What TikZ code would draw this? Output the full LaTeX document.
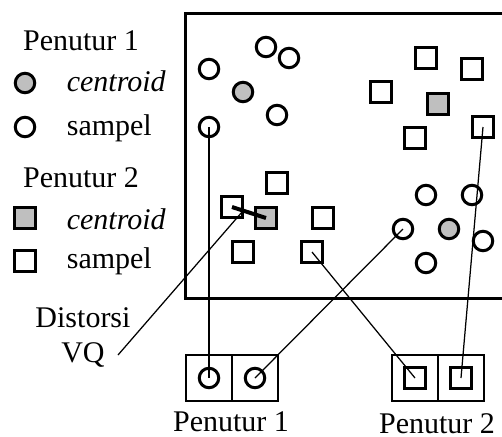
\documentclass[tikz,border=0pt]{standalone}
\usepackage{fontspec}
\setmainfont{Liberation Serif}
\begin{document}
\begin{tikzpicture}[x=0.4pt, y=-0.4pt, % 1 unit = 1 px of the sketch
  font=\fontsize{12}{14}\selectfont,
  bulat/.style={circle, draw, line width=1.2pt, fill=white, minimum size=7.8pt, inner sep=0pt},
  kotak/.style={rectangle, draw, line width=1.2pt, fill=white, minimum size=8.2pt, inner sep=0pt},
  pusat/.style={fill=black!25},
  sel/.style={rectangle, draw, line width=0.5pt, minimum size=18.4pt, inner sep=0pt},
  garis/.style={line width=0.5pt}]
  \useasboundingbox (0,0) rectangle (502,436);

  % Legend
  \node[anchor=base] (leg1) at (81,50) {Penutur 1};
  \node[bulat, pusat] (lc1) at (25,83) {};
  \node[anchor=base west] (lt1) at (58,91) {\textit{centroid}};
  \node[bulat] (ls1) at (25,127) {};
  \node[anchor=base west] (lt2) at (58,135) {sampel};
  \node[anchor=base] (leg2) at (81,187) {Penutur 2};
  \node[kotak, pusat] (lc2) at (25,218) {};
  \node[anchor=base west] (lt3) at (58,229) {\textit{centroid}};
  \node[kotak] (ls2) at (25,261) {};
  \node[anchor=base west] (lt4) at (58,268) {sampel};

  % Feature space (open on the right)
  \draw[line width=1.2pt] (530,13) -- (186,13) -- (186,298) -- (530,298);

  % Penutur 1 clusters (circles)
  \foreach \n/\x/\y in {sa1/209/69, sa2/266/47, sa3/289/58, sa4/277/115, sa5/209/127,
                        sb1/426/195, sb2/472/195, sb3/403/229, sb4/483/241, sb5/426/263}
    \node[bulat] (\n) at (\x,\y) {};
  \node[bulat, pusat] (ca) at (243,92) {};
  \node[bulat, pusat] (cb) at (449,229) {};

  % Penutur 2 clusters (squares)
  \foreach \n/\x/\y in {kc1/426/58, kc2/472/69, kc3/381/92, kc4/415/138, kc5/483/127,
                        kd1/232/207, kd2/277/183, kd3/323/218, kd4/243/252, kd5/312/252}
    \node[kotak] (\n) at (\x,\y) {};
  \node[kotak, pusat] (cc) at (438,104) {};
  \node[kotak, pusat] (cd) at (266,218) {};

  % Codebooks
  \node[sel] (b1a) at (209,378) {};
  \node[sel] (b1b) at (255,378) {};
  \node[sel] (b2a) at (415,378) {};
  \node[sel] (b2b) at (461,378) {};
  \node[bulat] (v1a) at (b1a) {};
  \node[bulat] (v1b) at (b1b) {};
  \node[kotak] (v2a) at (b2a) {};
  \node[kotak] (v2b) at (b2b) {};
  \node[anchor=base] (nm1) at (231,431) {Penutur 1};
  \node[anchor=base] (nm2) at (437,433) {Penutur 2};

  % Links to the codebooks
  \draw[garis] (sa5.center) -- (v1a.center);
  \draw[garis] (sb3.center) -- (v1b.center);
  \draw[garis] (kd5.center) -- (v2a.center);
  \draw[garis] (kc5.center) -- (v2b.center);

  % VQ distortion
  \draw[line width=1.6pt] (kd1.center) -- coordinate[pos=0.33] (dtitik) (cd.center);
  \node[align=center] (dvq) at (83,337) {Distorsi\\VQ};
  \coordinate (vqujung) at (118,355);
  \draw[garis] (dtitik) -- (vqujung);
\end{tikzpicture}
\end{document}
